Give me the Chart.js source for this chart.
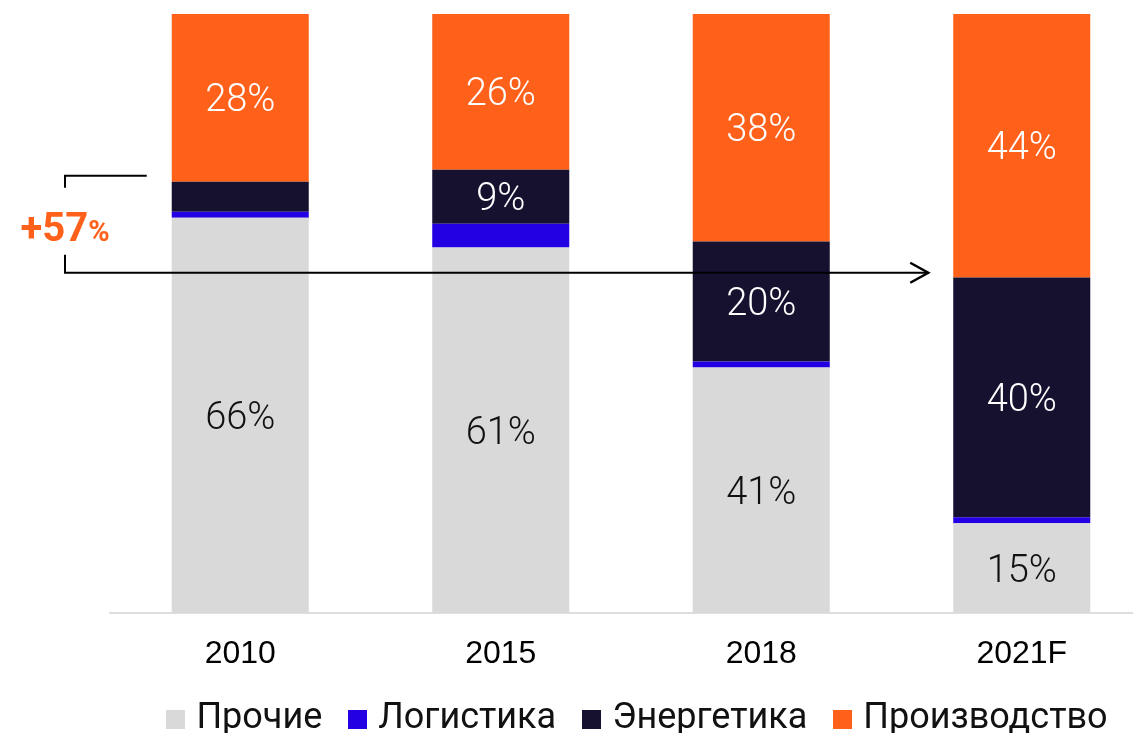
<!DOCTYPE html>
<html>
<head>
<meta charset="utf-8">
<script src="https://cdn.jsdelivr.net/npm/chart.js@4"></script>
<style>
  html, body { margin: 0; padding: 0; background: #fff; overflow: hidden; }
  #wrap { width: 1171px; height: 733px; position: relative; }
</style>
</head>
<body>
<div id="wrap"><canvas id="shareChart"></canvas></div>
<script>
const years = ["2010", "2015", "2018", "2021F"];
const seriesNames = ["Прочие", "Логистика", "Энергетика", "Производство"];
const other = [66, 61, 41, 15];
const logistics = [1, 4, 1, 1];
const energy = [5, 9, 20, 40];
const production = [28, 26, 38, 44];
const seriesColors = ["#d9d9d9", "#2200e3", "#15112f", "#ff611b"];
const labelColors = ["#111111", "#ffffff", "#ffffff", "#ffffff"];

// bracket / arrow annotation (+57%), levels in % of the bar
const growthText = "+57";
const bracketTopLevel = 73;
const arrowLevel = 56.8;

const ORANGE = "#ff611b";

// small square swatches for the legend (drawn at their own size)
function swatch(color) {
  const c = document.createElement("canvas");
  c.width = 19;
  c.height = 19;
  const g = c.getContext("2d");
  g.fillStyle = color;
  g.fillRect(0, 0, 19, 19);
  return c;
}
const swatches = seriesColors.map(swatch);

// values on the bars, only for the segments large enough
const barLabels = {
  id: "barLabels",
  afterDatasetsDraw(chart) {
    const ctx = chart.ctx;
    ctx.save();
    ctx.font = "300 38px Roboto";
    ctx.textAlign = "center";
    ctx.textBaseline = "middle";
    chart.data.datasets.forEach((ds, i) => {
      const meta = chart.getDatasetMeta(i);
      meta.data.forEach((bar, j) => {
        const v = ds.data[j];
        if (v < 9) return;
        const p = bar.getProps(["x", "y", "base"], true);
        ctx.fillStyle = labelColors[i];
        ctx.fillText(v + "%", p.x, (p.y + p.base) / 2 + 4);
      });
    });
    ctx.restore();
  }
};

const growthArrow = {
  id: "growthArrow",
  afterDraw(chart) {
    const ctx = chart.ctx;
    const ys = chart.scales.y;
    const first = chart.getDatasetMeta(0).data[0];
    const last = chart.getDatasetMeta(0).data[3];
    const bx = chart.chartArea.left - 45;
    const topY = ys.getPixelForValue(bracketTopLevel);
    const arrY = ys.getPixelForValue(arrowLevel);
    const topEnd = first.x - first.width / 2 - 25;
    const arrEnd = last.x - last.width / 2 - 25;

    ctx.save();
    ctx.strokeStyle = "#000";
    ctx.lineWidth = 2;
    ctx.beginPath();
    ctx.moveTo(topEnd, topY);
    ctx.lineTo(bx, topY);
    ctx.lineTo(bx, topY + 12);
    ctx.moveTo(bx, arrY - 18);
    ctx.lineTo(bx, arrY);
    ctx.lineTo(arrEnd, arrY);
    ctx.stroke();
    ctx.lineWidth = 2.5;
    ctx.beginPath();
    ctx.moveTo(arrEnd - 18, arrY - 10);
    ctx.lineTo(arrEnd, arrY);
    ctx.lineTo(arrEnd - 18, arrY + 10);
    ctx.stroke();

    // "+57%" with a smaller percent sign
    const big = "700 40px Roboto";
    const small = "700 29px Roboto";
    ctx.font = big;
    const w1 = ctx.measureText(growthText).width;
    ctx.font = small;
    const w2 = ctx.measureText("%").width;
    const startX = bx - (w1 + w2) / 2;
    const baseY = (topY + arrY) / 2 + 17;
    ctx.fillStyle = ORANGE;
    ctx.textBaseline = "alphabetic";
    ctx.textAlign = "left";
    ctx.font = big;
    ctx.fillText(growthText, startX, baseY);
    ctx.font = small;
    ctx.fillText("%", startX + w1, baseY);
    ctx.restore();
  }
};

const allSeries = [other, logistics, energy, production];

const data = {
  labels: years,
  datasets: allSeries.map((vals, i) => ({
    label: seriesNames[i],
    data: vals,
    backgroundColor: seriesColors[i],
    borderWidth: 0,
    categoryPercentage: 1,
    barPercentage: 0.526,
  })),
};

const options = {
  responsive: true,
  maintainAspectRatio: false,
  animation: false,
  layout: {
    padding: { left: 110, right: 0, top: 14, bottom: 0 },
  },
  scales: {
    x: {
      stacked: true,
      grid: { display: false, drawTicks: false },
      border: { display: true, color: "#dedede", width: 2 },
      ticks: {
        color: "#000",
        padding: 22,
        font: { family: "'Liberation Sans', Arial, sans-serif", size: 32 },
      },
      afterFit(scale) {
        scale.height = 55;
      },
    },
    y: {
      stacked: true,
      position: "right",
      min: 0,
      max: 100,
      grid: { display: false, drawTicks: false },
      border: { display: false },
      ticks: { display: false },
      afterFit(scale) {
        scale.width = 19;
      },
    },
  },
  plugins: {
    legend: {
      position: "bottom",
      maxHeight: 65,
      labels: {
        usePointStyle: true,
        pointStyleWidth: 5,
        boxHeight: 19,
        padding: 33,
        color: "#111",
        font: { family: "Roboto", size: 36 },
        generateLabels(chart) {
          const items = Chart.defaults.plugins.legend.labels.generateLabels(chart);
          items.forEach((it, i) => { it.pointStyle = swatches[i]; });
          return items;
        },
      },
    },
    tooltip: { enabled: false },
  },
};

const ctx = document.getElementById("shareChart").getContext("2d");
new Chart(ctx, {
  type: "bar",
  data: data,
  options: options,
  plugins: [barLabels, growthArrow],
});
</script>
</body>
</html>
